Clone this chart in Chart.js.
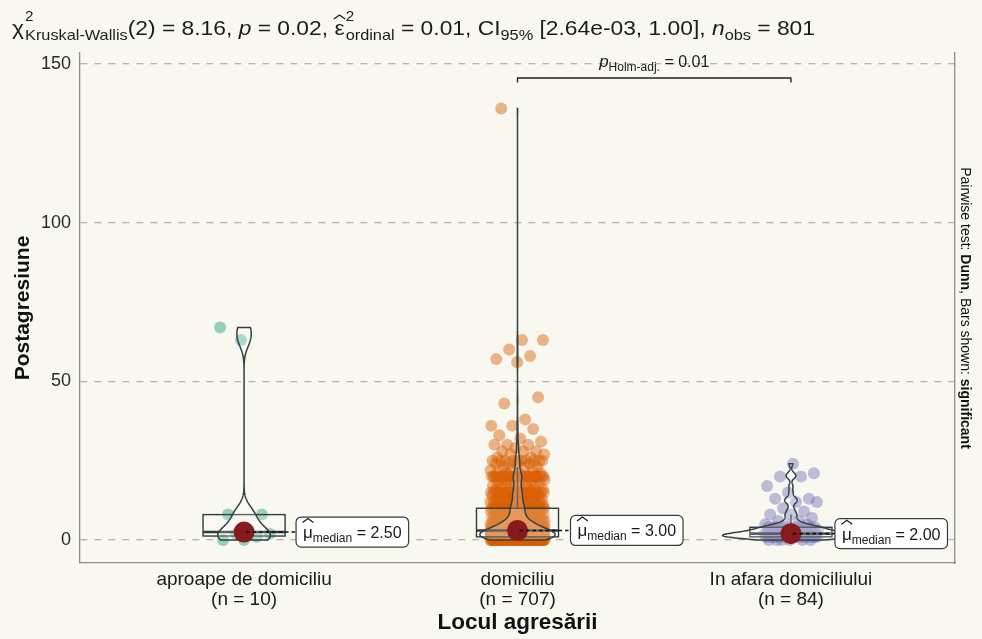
<!DOCTYPE html>
<html lang="ro">
<head>
<meta charset="utf-8">
<title>Postagresiune după locul agresării</title>
<script src="https://cdn.jsdelivr.net/npm/chart.js@4.4.1/dist/chart.umd.min.js"></script>
<style>
  html, body { margin: 0; padding: 0; background: #f8f7f0; }
  #box { width: 982px; height: 639px; }
  canvas { display: block; }
</style>
</head>
<body>
<div id="box"><canvas id="chart" width="982" height="639"></canvas></div>
<script>
// ---- data ---------------------------------------------------------------
const categories = ['aproape de domiciliu', 'domiciliu', 'In afara domiciliului'];

// individual observations for the small group
const aproapeValues = [0, 0, 1, 2, 2, 3, 8, 8, 63, 67];

// [value, number of respondents] for the two larger groups
const domiciliuCounts = [
  [0, 90], [1, 110], [2, 100], [3, 80], [4, 40], [5, 45], [6, 20], [7, 18],
  [8, 15], [9, 8], [10, 30], [11, 5], [12, 18], [13, 5], [14, 6], [15, 22],
  [16, 5], [17, 5], [18, 6], [19, 3], [20, 25], [21, 3], [22, 4], [23, 3],
  [24, 4], [25, 10], [26, 2], [27, 2], [28, 3], [29, 1], [30, 3], [31, 1],
  [32, 1], [33, 1], [35, 1], [36, 2], [38, 1], [43, 1], [45, 1], [56, 1],
  [57, 1], [58, 1], [60, 1], [63, 2], [136, 1]
];
const inAfaraCounts = [
  [0, 6], [1, 22], [2, 18], [3, 8], [4, 10], [5, 3], [6, 2], [7, 1], [8, 2],
  [9, 1], [10, 1], [12, 2], [13, 2], [15, 1], [17, 1], [20, 2], [21, 1], [24, 1]
];

const yTickValues = [0, 50, 100, 150];
const groupColors = ['27,158,119', '217,95,2', '117,112,179'];

// Kruskal-Wallis summary and the Dunn pairwise comparison shown as a bracket
const kwStatistic = ['2', '8.16'];             // df, chi-squared
const kwP = '0.02';
const kwEffect = ['0.01', '2.64e-03', '1.00']; // epsilon^2 ordinal, CI low, CI high
const pairwisePair = [2, 3];
const pairwiseP = '0.01';
const bracketLevel = 145.6;

// ---- helpers --------------------------------------------------------------
const expand = counts => counts.flatMap(([v, n]) => Array(n).fill(v));
const groups = [aproapeValues, expand(domiciliuCounts), expand(inAfaraCounts)];
const nObs = groups.reduce((s, g) => s + g.length, 0);

function quantile(sorted, p) {
  const h = (sorted.length - 1) * p, lo = Math.floor(h), hi = Math.ceil(h);
  return sorted[lo] + (h - lo) * (sorted[hi] - sorted[lo]);
}
function summary(values) {
  const s = [...values].sort((a, b) => a - b);
  const q1 = quantile(s, 0.25), med = quantile(s, 0.5), q3 = quantile(s, 0.75);
  const iqr = q3 - q1;
  const lowW = s.find(v => v >= q1 - 1.5 * iqr);
  const highW = [...s].reverse().find(v => v <= q3 + 1.5 * iqr);
  const n = s.length, mean = s.reduce((a, b) => a + b, 0) / n;
  const sd = Math.sqrt(s.reduce((a, b) => a + (b - mean) ** 2, 0) / (n - 1));
  let lo = Math.min(sd, iqr / 1.34);
  if (!(lo > 0)) lo = sd || 1;
  const bw = 0.9 * lo * Math.pow(n, -0.2);
  return { s, q1, med, q3, lowW, highW, bw, min: s[0], max: s[n - 1] };
}
const stats = groups.map(summary);

// gaussian kernel density over each group's range (trimmed violins)
const densities = stats.map(st => {
  const uniq = new Map();
  st.s.forEach(v => uniq.set(v, (uniq.get(v) || 0) + 1));
  const n = st.s.length, pts = [];
  const steps = 256;
  for (let i = 0; i <= steps; i++) {
    const y = st.min + (st.max - st.min) * i / steps;
    let d = 0;
    uniq.forEach((c, v) => { const z = (y - v) / st.bw; d += c * Math.exp(-0.5 * z * z); });
    pts.push([y, d / (n * st.bw * Math.sqrt(2 * Math.PI))]);
  }
  return pts;
});
const maxDensity = Math.max(...densities.flat().map(p => p[1]));

// ---- text drawing ---------------------------------------------------------
const FAMILY = '"Liberation Sans", Arimo, Arial, Helvetica, sans-serif';
const font = (size, weight = 'normal', style = 'normal') => `${style} ${weight} ${size}px ${FAMILY}`;

function measureParts(ctx, parts) {
  let total = 0;
  for (const p of parts) {
    ctx.font = font(p.size, p.weight, p.style);
    p.w = ctx.measureText(p.t).width;
    p.extra = 0;
    if (p.sup || p.sub) {
      let a = 0, b = 0;
      if (p.sup) { ctx.font = font(p.supSize); a = ctx.measureText(p.sup).width; }
      if (p.sub) { ctx.font = font(p.subSize); b = ctx.measureText(p.sub).width; }
      p.extra = Math.max(a, b) + 1;
    }
    total += p.w + p.extra;
  }
  return total;
}
function drawParts(ctx, parts, x, y) {
  let cx = x;
  ctx.textAlign = 'left';
  ctx.textBaseline = 'alphabetic';
  for (const p of parts) {
    ctx.font = font(p.size, p.weight, p.style);
    ctx.fillText(p.t, cx, y + (p.dy || 0));
    if (p.hat) {
      // wide circumflex accent over the symbol
      ctx.save();
      ctx.beginPath();
      ctx.lineWidth = 1.2;
      ctx.lineJoin = 'miter';
      ctx.moveTo(cx - 0.5, y - p.hat[0]);
      ctx.lineTo(cx + p.w / 2, y - p.hat[1]);
      ctx.lineTo(cx + p.w + 0.5, y - p.hat[0]);
      ctx.stroke();
      ctx.restore();
    }
    if (p.sup) { ctx.font = font(p.supSize); ctx.fillText(p.sup, cx + p.w + 1, y + p.supDy); }
    if (p.sub) { ctx.font = font(p.subSize); ctx.fillText(p.sub, cx + p.w + 1, y + p.subDy); }
    cx += p.w + p.extra;
  }
}

// ---- plugin: background, boxes, violins, labels, titles ---------------------
const decor = {
  id: 'decor',
  beforeDraw(chart) {
    const { ctx, width, height } = chart;
    ctx.save();
    ctx.fillStyle = '#f8f7f0';
    ctx.fillRect(0, 0, width, height);
    ctx.restore();
  },
  beforeDatasetDraw(chart, args) {
    if (args.index !== 3) return;
    const { ctx, chartArea: a } = chart;
    const xs = chart.scales.x, ys = chart.scales.y;
    ctx.save();
    ctx.beginPath();
    ctx.rect(a.left, a.top, a.right - a.left, a.bottom - a.top);
    ctx.clip();
    stats.forEach((st, i) => {
      const c = i + 1;
      const xl = xs.getPixelForValue(c - 0.15), xr = xs.getPixelForValue(c + 0.15);
      const xc = xs.getPixelForValue(c);
      const yq1 = ys.getPixelForValue(st.q1), yq3 = ys.getPixelForValue(st.q3);
      ctx.strokeStyle = '#333b3d';
      ctx.lineWidth = 1.4;
      // whiskers
      ctx.beginPath();
      ctx.moveTo(xc, yq3); ctx.lineTo(xc, ys.getPixelForValue(st.highW));
      ctx.moveTo(xc, yq1); ctx.lineTo(xc, ys.getPixelForValue(st.lowW));
      ctx.stroke();
      // box
      ctx.fillStyle = 'rgba(255,255,255,0.2)';
      ctx.fillRect(xl, yq3, xr - xl, yq1 - yq3);
      ctx.strokeRect(xl, yq3, xr - xl, yq1 - yq3);
      ctx.lineWidth = 2.6;
      ctx.beginPath();
      ctx.moveTo(xl, ys.getPixelForValue(st.med));
      ctx.lineTo(xr, ys.getPixelForValue(st.med));
      ctx.stroke();
    });
    densities.forEach((pts, i) => {
      const c = i + 1;
      ctx.beginPath();
      pts.forEach(([y, d], k) => {
        const px = xs.getPixelForValue(c + 0.25 * d / maxDensity), py = ys.getPixelForValue(y);
        k ? ctx.lineTo(px, py) : ctx.moveTo(px, py);
      });
      for (let k = pts.length - 1; k >= 0; k--) {
        const [y, d] = pts[k];
        ctx.lineTo(xs.getPixelForValue(c - 0.25 * d / maxDensity), ys.getPixelForValue(y));
      }
      ctx.closePath();
      ctx.fillStyle = 'rgba(255,255,255,0.2)';
      ctx.fill();
      ctx.strokeStyle = '#344143';
      ctx.lineWidth = 1.5;
      ctx.stroke();
    });
    ctx.restore();
  },
  afterDatasetsDraw(chart) {
    const { ctx } = chart;
    const xs = chart.scales.x, ys = chart.scales.y;
    const labelOffsets = [52, 53, 44];
    ctx.save();
    stats.forEach((st, i) => {
      const xc = xs.getPixelForValue(i + 1);
      const yc = ys.getPixelForValue(st.med);
      const parts = [
        { t: 'μ', size: 17, hat: [15.5, 19.5] },
        { t: 'median', size: 12, dy: 4 },
        { t: ' = ' + st.med.toFixed(2), size: 16 }
      ];
      const w = measureParts(ctx, parts);
      const bx = xc + labelOffsets[i], bw = w + 14, bh = 30;
      // dashed connector
      ctx.strokeStyle = '#111';
      ctx.lineWidth = 1.6;
      ctx.setLineDash([3.5, 3]);
      ctx.beginPath();
      ctx.moveTo(xc + 2, yc); ctx.lineTo(bx, yc);
      ctx.stroke();
      ctx.setLineDash([]);
      // label box
      ctx.beginPath();
      ctx.roundRect(bx, yc - bh / 2, bw, bh, 5);
      ctx.fillStyle = '#ffffff';
      ctx.fill();
      ctx.strokeStyle = '#3a3a3a';
      ctx.lineWidth = 1.2;
      ctx.stroke();
      ctx.fillStyle = '#1a1a1a';
      ctx.strokeStyle = '#1a1a1a';
      drawParts(ctx, parts, bx + 7, yc + 6);
    });
    // significance bracket
    const x1 = xs.getPixelForValue(pairwisePair[0]), x2 = xs.getPixelForValue(pairwisePair[1]);
    const yb = ys.getPixelForValue(bracketLevel);
    ctx.strokeStyle = '#222';
    ctx.lineWidth = 1.4;
    ctx.beginPath();
    ctx.moveTo(x1, yb + 4.5); ctx.lineTo(x1, yb); ctx.lineTo(x2, yb); ctx.lineTo(x2, yb + 4.5);
    ctx.stroke();
    const pParts = [
      { t: 'p', size: 17, style: 'italic' },
      { t: 'Holm-adj.', size: 12, dy: 4 },
      { t: ' = ' + pairwiseP, size: 16 }
    ];
    const pw = measureParts(ctx, pParts);
    ctx.fillStyle = '#1a1a1a';
    drawParts(ctx, pParts, (x1 + x2) / 2 - pw / 2, yb - 11);
    ctx.restore();
  },
  afterDraw(chart) {
    const { ctx, chartArea: a } = chart;
    ctx.save();
    ctx.fillStyle = '#1c1c1c';
    ctx.strokeStyle = '#1c1c1c';
    // title with the test summary
    const T = 21, S = 15;
    const title = [
      { t: 'χ', size: T, sup: '2', supSize: 14, supDy: -14, sub: 'Kruskal-Wallis', subSize: S, subDy: 5 },
      { t: '(' + kwStatistic[0] + ') = ' + kwStatistic[1] + ', ', size: T },
      { t: 'p', size: T, style: 'italic' },
      { t: ' = ' + kwP + ', ', size: T },
      { t: 'ε', size: T, hat: [16, 20], sup: '2', supSize: 14, supDy: -14, sub: 'ordinal', subSize: S, subDy: 5 },
      { t: ' = ' + kwEffect[0] + ', CI', size: T },
      { t: '95%', size: S, dy: 5 },
      { t: ' [' + kwEffect[1] + ', ' + kwEffect[2] + '], ', size: T },
      { t: 'n', size: T, style: 'italic' },
      { t: 'obs', size: S, dy: 5 },
      { t: ' = ' + nObs, size: T }
    ];
    const tw = measureParts(ctx, title);
    ctx.save();
    ctx.translate(12, 35);
    ctx.scale(803 / tw, 1);
    drawParts(ctx, title, 0, 0);
    ctx.restore();

    // axis titles
    ctx.textAlign = 'center';
    ctx.textBaseline = 'alphabetic';
    ctx.font = font(22.5, 'bold');
    ctx.fillStyle = '#111';
    ctx.fillText('Locul agresării', (a.left + a.right) / 2, 629);
    ctx.font = font(21, 'bold');
    ctx.save();
    ctx.translate(29, (a.top + a.bottom) / 2);
    ctx.rotate(-Math.PI / 2);
    ctx.fillText('Postagresiune', 0, 0);
    ctx.restore();

    // secondary axis caption
    const side = [
      { t: 'Pairwise test: ', size: 14 },
      { t: 'Dunn', size: 14, weight: 'bold' },
      { t: ', Bars shown: ', size: 14 },
      { t: 'significant', size: 14, weight: 'bold' }
    ];
    const sw = measureParts(ctx, side);
    ctx.save();
    ctx.translate(961, (a.top + a.bottom) / 2);
    ctx.rotate(Math.PI / 2);
    ctx.fillStyle = '#111';
    drawParts(ctx, side, -sw / 2, 0);
    ctx.restore();
    ctx.restore();
  }
};

// ---- datasets ---------------------------------------------------------------
const JITTER = 0.1;
const pointDatasets = groups.map((vals, i) => ({
  label: categories[i],
  data: [...vals].sort((a, b) => a - b).map((v, k) => ({
    x: i + 1 + (((k * 0.6180339887 + 0.5 + i * 0.37) % 1) - 0.5) * 2 * JITTER,
    y: v
  })),
  pointRadius: 6,
  pointBorderWidth: 0,
  backgroundColor: `rgba(${groupColors[i]},0.45)`,
  borderColor: 'rgba(0,0,0,0)',
  order: 10
}));
const medianDataset = {
  label: 'median',
  data: stats.map((st, i) => ({ x: i + 1, y: st.med })),
  pointRadius: 10.5,
  pointBorderWidth: 0,
  backgroundColor: '#861a1d',
  borderColor: 'rgba(0,0,0,0)',
  order: 0
};

const yMin = -7.25, yMax = 153.47;
new Chart(document.getElementById('chart'), {
  type: 'scatter',
  data: { datasets: [...pointDatasets, medianDataset] },
  options: {
    responsive: false,
    animation: false,
    devicePixelRatio: 1,
    events: [],
    layout: { padding: { top: 53, left: 0, right: 0, bottom: 0 } },
    plugins: { legend: { display: false }, tooltip: { enabled: false }, title: { display: false } },
    scales: {
      x: {
        type: 'linear', position: 'bottom', min: 0.4, max: 3.6,
        afterBuildTicks: s => { s.ticks = categories.map((c, i) => ({ value: i + 1 })); },
        afterFit: s => { s.height = 76; },
        ticks: {
          callback: v => [categories[Math.round(v) - 1], `(n = ${groups[Math.round(v) - 1].length})`],
          font: { family: FAMILY, size: 19, lineHeight: 1.06 },
          color: '#1a1a1a', padding: 7, maxRotation: 0, autoSkip: false
        },
        grid: { display: false, drawTicks: false },
        border: { display: true, color: '#8c8c8c', width: 1.3 }
      },
      y: {
        type: 'linear', position: 'left', min: yMin, max: yMax,
        afterBuildTicks: s => { s.ticks = yTickValues.map(v => ({ value: v })); },
        afterFit: s => { s.width = 80; },
        ticks: { font: { family: FAMILY, size: 18 }, color: '#2a2a2a', padding: 9 },
        grid: { color: '#b4b4b4', lineWidth: 1.3, drawTicks: false },
        border: { display: true, color: '#8c8c8c', width: 1.3, dash: [7, 7] }
      },
      y2: {
        type: 'linear', position: 'right', min: yMin, max: yMax,
        afterFit: s => { s.width = 27; },
        ticks: { display: false },
        grid: { display: false, drawTicks: false },
        border: { display: true, color: '#8c8c8c', width: 1.3 }
      }
    }
  },
  plugins: [decor]
});
</script>
</body>
</html>
